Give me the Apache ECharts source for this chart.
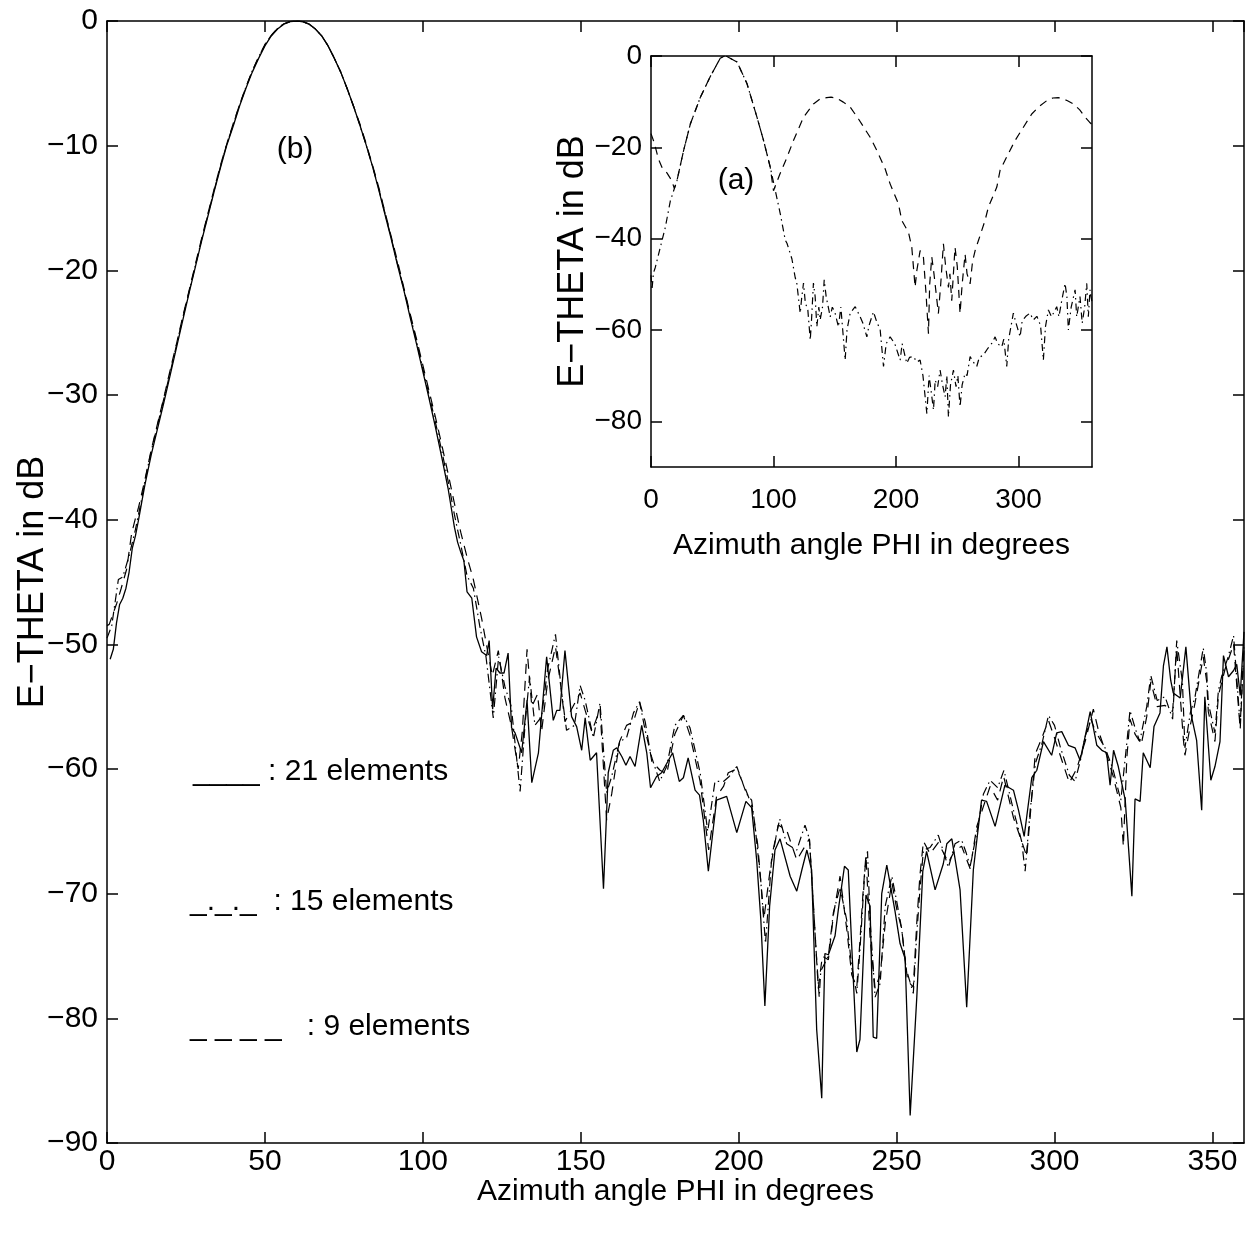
<!DOCTYPE html>
<html><head><meta charset="utf-8">
<script src="https://cdn.jsdelivr.net/npm/echarts@6/dist/echarts.min.js"></script>
<style>html,body{margin:0;padding:0;background:#fff}#c{width:1253px;height:1236px}</style>
</head><body><div id="c"></div>
<script>
// ---- data: [azimuth PHI (deg), E-THETA (dB)] ----
const solid21 = [[1,-51.2],[2,-50.4],[3,-48.3],[4,-46.8],[5,-46.3],[6,-45.5],[7,-44.2],[8,-42.3],[9,-41.3],[10,-40.0],[11,-38.6],[12,-37.2],[14,-34.8],[16,-32.7],[18,-30.6],[20,-28.4],[22,-26.2],[24,-24.0],[26,-21.8],[28,-19.7],[30,-17.6],[32,-15.6],[34,-13.6],[36,-11.7],[38,-9.9],[40,-8.4],[42,-6.8],[44,-5.4],[46,-4.1],[48,-3.0],[50,-2.0],[52,-1.2],[54,-0.65],[56,-0.25],[58,-0.05],[60,0],[62,-0.05],[64,-0.25],[66,-0.65],[68,-1.2],[70,-2.0],[72,-3.0],[74,-4.1],[76,-5.4],[78,-6.8],[80,-8.3],[82,-9.9],[84,-11.6],[86,-13.5],[88,-15.5],[90,-17.5],[92,-19.6],[94,-21.6],[96,-23.8],[98,-25.9],[100,-28.1],[102,-30.3],[104,-32.6],[106,-35.0],[108,-37.5],[110,-40.6],[111,-41.8],[112,-42.6],[113,-43.3],[114,-45.8],[115.5,-46.3],[117,-49.4],[118.6,-50.6],[120.2,-50.9],[121,-49.7],[122.1,-55.2],[123.2,-51.9],[124.4,-52.3],[125.7,-52.3],[127,-50.7],[128.1,-56.7],[129.2,-57.1],[131.3,-58.7],[133,-54.5],[134.5,-61.1],[136.6,-58.7],[139.2,-51],[141.3,-56.1],[142.4,-55.3],[143.4,-55.3],[145,-50.5],[147.1,-55.8],[148.7,-56.6],[150.3,-58.5],[151.4,-55.9],[153,-59.3],[154,-59],[155,-58.7],[157.2,-69.6],[158.7,-60.3],[160.3,-58.5],[161.4,-58.3],[163,-59],[164.3,-59.7],[165.6,-59],[167.2,-59.8],[169.3,-56.5],[170.9,-58.7],[172.1,-61.5],[174,-60.6],[175.6,-60.3],[179.1,-58.7],[181.2,-61],[182.5,-60.7],[184,-59.1],[186.2,-61.7],[187.6,-62.1],[188.8,-64.1],[190.4,-68.2],[193,-62.5],[196.2,-62.2],[199.4,-65.1],[202.3,-62.6],[204.1,-63.1],[205.7,-67.3],[207,-72],[208.3,-79],[209.8,-71],[211.5,-66.5],[213.1,-65.6],[216.3,-68.6],[218.4,-69.8],[220,-68.1],[221.6,-66.5],[223.1,-68.1],[224.7,-80.9],[226.3,-86.4],[227.3,-74.8],[228.4,-74.9],[230.5,-73.4],[231.6,-71.2],[233.5,-67.8],[234.7,-68.1],[235.8,-74.2],[237.4,-82.7],[238.4,-81.7],[240.3,-70.1],[241.6,-71],[242.6,-81.5],[243.7,-81.6],[245.3,-70],[246.9,-67.7],[249.5,-71.4],[251.1,-74],[252.7,-75.2],[254.3,-87.8],[256.4,-78.3],[258.3,-68.2],[259.5,-66.6],[262.2,-69.7],[264.8,-67.6],[265.9,-66],[267.5,-65.6],[270.1,-69.7],[272.2,-79.1],[274.3,-68.1],[276.9,-62.5],[278.5,-62.6],[281.2,-64.6],[284.3,-61.3],[287,-61.7],[288.6,-63.3],[290.4,-65.4],[292.8,-60.7],[294.4,-60.1],[296.5,-57.8],[299.1,-58.9],[300.7,-57.1],[302.3,-57],[304.4,-58.1],[306.5,-58.3],[308.1,-59.3],[309.7,-57.4],[311.3,-55.4],[313.4,-58.1],[315,-58.5],[316.5,-58.7],[317.6,-61.3],[318.7,-58.5],[320.2,-59.8],[322.4,-62.5],[324.5,-70.2],[325.5,-62.4],[327.1,-62.6],[328.1,-58.7],[330.3,-59.9],[331.5,-56.6],[333.4,-55.5],[334.5,-51.7],[335.6,-50.2],[336.8,-52.9],[337.6,-53.9],[339.8,-54.3],[341.6,-50.2],[343.4,-55.8],[345,-57.7],[346.6,-63.3],[347.6,-54.2],[349.5,-60.9],[350.8,-59.8],[352.4,-57.8],[353.5,-50.9],[355.1,-52.6],[356.7,-52.1],[357.7,-51.6],[358.8,-54.1],[360,-49]];

const dashDot15 = [[0,-49.5],[1.5,-48.5],[3.6,-44.8],[5,-44.6],[7,-42.9],[9,-40.8],[11,-38.3],[12,-36.9],[14,-34.5],[16,-32.4],[18,-30.3],[20,-28.2],[22,-26.0],[24,-23.8],[26,-21.7],[28,-19.6],[30,-17.5],[32,-15.5],[34,-13.5],[36,-11.6],[38,-9.8],[40,-8.3],[42,-6.7],[44,-5.3],[46,-4.0],[48,-2.9],[50,-1.9],[52,-1.15],[54,-0.6],[56,-0.22],[58,-0.04],[60,0],[62,-0.05],[64,-0.25],[66,-0.65],[68,-1.2],[70,-2.0],[72,-3.0],[74,-4.1],[76,-5.4],[78,-6.8],[80,-8.3],[82,-9.9],[84,-11.6],[86,-13.4],[88,-15.4],[90,-17.4],[92,-19.5],[94,-21.5],[96,-23.6],[98,-25.7],[100,-27.9],[102,-30.0],[104,-32.2],[106,-34.5],[108,-36.9],[110,-39.6],[112,-42],[114,-44.5],[116,-45.5],[118,-48.5],[120,-51],[122.3,-55.9],[124,-51],[126,-53.4],[128,-55],[130.8,-61.8],[132.5,-56],[133.8,-52.6],[135.5,-56.5],[137.6,-55.8],[139.5,-52],[142,-49.2],[144,-54],[145.5,-56.9],[148,-56.5],[149.8,-53.3],[151.4,-54.5],[154,-57.5],[156.1,-54.7],[158.2,-61.9],[159.8,-60.6],[162.3,-57.8],[164.5,-57.5],[166.7,-55.5],[168.6,-54.6],[170.4,-56.9],[172.5,-59.1],[175,-61],[177.2,-59.8],[179.8,-56.5],[182.5,-55.7],[184.6,-56.7],[187.8,-60.3],[190.2,-65],[192.5,-61],[195.2,-61],[197,-60.6],[199.4,-59.8],[202.5,-62],[204.1,-62.5],[205.2,-64.6],[207,-69],[208.5,-74],[210.5,-67],[213,-64],[215.2,-66],[218.4,-66.5],[221,-64.5],[222.4,-65.6],[224.5,-74.5],[225.5,-78.3],[226,-76.2],[228.4,-75],[230,-71.5],[232.1,-69.5],[234.2,-72.1],[235.8,-75.9],[237.4,-78],[238.4,-74.5],[240,-68],[240.8,-66.6],[241.6,-72.1],[243.2,-78.3],[244.8,-77.2],[246.4,-71],[248.5,-68.6],[250.1,-70.7],[251.6,-72.8],[253,-76],[255.3,-78],[256.4,-73.2],[257.4,-69.7],[258.5,-66.5],[260.6,-66.3],[263.2,-65.3],[266.4,-67.9],[268.5,-66],[270.6,-65.7],[272,-66.7],[273.3,-67.8],[275.4,-65.1],[277.5,-62],[279.6,-60.9],[282,-61.5],[284,-60.1],[287,-63.3],[289.6,-65.8],[290.7,-68.2],[292.3,-63.3],[294,-59.5],[296,-58],[298.1,-55.7],[300,-56.5],[301.8,-58.2],[304.7,-60.5],[306.5,-61],[308.5,-59],[309.7,-57.4],[311.5,-56],[313,-57],[316,-58.3],[318.5,-60],[321,-62.5],[322.9,-57.9],[323.9,-55.3],[325.5,-56.7],[327,-57.8],[329.2,-55],[330.5,-52.5],[332.5,-54.5],[335,-54.2],[337.4,-56],[338.7,-49.7],[340.5,-53],[341.3,-58.3],[343,-55.5],[344.5,-54.2],[347.1,-50.3],[348.2,-52.3],[348.7,-54.7],[350.8,-57.1],[351.9,-53.7],[353,-52.5],[355,-51],[356.7,-49.3],[358.8,-56.5],[360,-49.9]];

const dashed9 = [[0,-48.5],[0.7,-48.4],[3.1,-46.7],[4.5,-45.5],[6.2,-44.0],[7.8,-41.1],[8.9,-40.0],[10,-39.0],[12,-36.8],[14,-34.4],[16,-32.3],[18,-30.2],[20,-28.0],[22,-25.9],[24,-23.7],[26,-21.6],[28,-19.5],[30,-17.4],[32,-15.4],[34,-13.4],[36,-11.5],[38,-9.8],[40,-8.2],[42,-6.7],[44,-5.3],[46,-4.0],[48,-2.9],[50,-1.9],[52,-1.15],[54,-0.6],[56,-0.22],[58,-0.04],[60,0],[62,-0.05],[64,-0.25],[66,-0.65],[68,-1.2],[70,-2.0],[72,-3.0],[74,-4.1],[76,-5.4],[78,-6.8],[80,-8.2],[82,-9.8],[84,-11.5],[86,-13.3],[88,-15.3],[90,-17.3],[92,-19.3],[94,-21.4],[96,-23.5],[98,-25.5],[100,-27.6],[102,-29.7],[104,-31.8],[106,-34.0],[108,-36.3],[110,-38.7],[112,-41.0],[114,-43.0],[116,-44.8],[118.6,-47.9],[120.5,-50.5],[122,-52.5],[123.9,-50.5],[126,-54.3],[128,-56.5],[130.2,-60.0],[131.5,-57],[133,-50.4],[134.5,-55],[136.3,-54.0],[137.6,-57.0],[139.5,-53],[142,-50.2],[143.5,-53],[145,-56.2],[147.5,-55],[149.8,-53.9],[151.4,-55.3],[153.5,-57],[156.1,-55.2],[158.2,-64.1],[159.8,-62],[162.3,-57.8],[164.5,-56.5],[166.7,-56.2],[168.6,-54.6],[170.4,-56.2],[172.5,-59.4],[175.1,-60.1],[177.2,-60.4],[179.8,-57.2],[182.5,-55.7],[184.6,-57.3],[187.8,-61.0],[190.5,-66.5],[193,-62.2],[195.2,-61.4],[196.7,-60.3],[199.4,-60.0],[202,-61.5],[204.1,-62.9],[206,-66],[208,-72],[210,-68],[212.5,-64.5],[215.2,-64.9],[218.4,-67.3],[222.4,-65.6],[223.7,-71],[225.2,-77.6],[226.5,-75],[228.4,-75.3],[230,-71.7],[232.1,-68.6],[234.2,-72.8],[235.8,-76.5],[237.4,-77.5],[238.4,-73.8],[239.3,-70.2],[240.3,-66.9],[241.6,-73.5],[243.2,-77.6],[244.8,-76.5],[246.4,-72.4],[248.5,-69.1],[250.1,-71.3],[251.6,-72.8],[253.5,-77],[255.3,-77.5],[256.4,-72.3],[257.4,-68.5],[258.5,-65.8],[260.6,-66.8],[263.2,-65.9],[266.4,-67.5],[268.5,-66.5],[270.6,-66.2],[273.3,-68],[275.4,-64.6],[277.5,-63],[279.6,-61.4],[282,-62.5],[283.9,-60.6],[287,-63.9],[289.6,-65.8],[291.2,-67],[292.3,-63.8],[293.9,-58.8],[296,-57.5],[298.1,-56.1],[300,-57.5],[301.8,-58.9],[304.7,-61.1],[307,-60],[309.7,-57.8],[312.3,-55.2],[314,-57],[316,-58.5],[318.5,-60.5],[321,-63.1],[321.8,-66.2],[322.9,-59.1],[323.9,-56],[325.5,-57.2],[327.5,-58],[329.2,-55.8],[330.5,-53],[332.5,-55],[335,-54.9],[337.4,-55.4],[338.7,-50.3],[340.8,-57.6],[341.3,-58.9],[343,-56.5],[344.5,-54.7],[347.1,-51],[348.2,-53],[348.7,-55.4],[350.8,-57.8],[351.9,-54.1],[354,-52],[356.7,-50],[358.8,-56.8],[360,-50.3]];

// inset (a)
const insetDashed = [[0,-17],[2,-18.5],[4,-20.4],[6,-22.5],[9,-24.4],[13,-25.6],[17,-27.3],[19,-29],[21.2,-27.3],[26.6,-20.7],[32.1,-14.9],[40.2,-9.1],[48.4,-4.5],[56.5,-0.5],[60,0],[62,-0.1],[70.2,-1.3],[78.3,-6],[86.5,-13.4],[91.9,-18.5],[97.3,-24.3],[100,-29.5],[105,-26],[111,-22.2],[116.3,-18.5],[124.5,-13.4],[132.6,-10.5],[138,-9.4],[143.5,-9.1],[147,-9.0],[152,-9.3],[157,-10.1],[162.6,-11.2],[169.4,-13.8],[178.9,-17.8],[184.4,-20.7],[191.1,-24.7],[195.2,-28],[202,-32.4],[204.7,-36],[210.2,-38.6],[212.9,-41.9],[215.6,-50.6],[217,-47],[219.7,-42.6],[222.4,-44.1],[224.5,-52],[226.5,-60.8],[227.5,-50],[229.2,-44],[231,-47.7],[234.6,-56.4],[236.5,-50],[238.7,-41.1],[240.5,-46],[242.8,-50.7],[244,-47.7],[245.5,-53.6],[248.2,-41.9],[250,-46],[252.3,-56.4],[254,-50],[256.4,-43.4],[258,-47.7],[260.5,-49.9],[262.5,-45],[264.6,-42.6],[267.3,-40.4],[272.7,-36],[275.4,-33.1],[282.3,-28.7],[285,-25],[291.7,-21.4],[297.2,-18.5],[304,-15.6],[310.8,-12.7],[317,-11],[323,-9.8],[328,-9.2],[332.5,-9.1],[336.6,-9.4],[340,-9.8],[344.8,-10.5],[350,-11.8],[354.3,-13.4],[358,-14.5],[360,-15]];

const insetDashDot = [[0,-48],[0.8,-51.2],[2,-47.5],[3.5,-46.3],[7.6,-41.9],[11.7,-37.5],[15.8,-31.7],[21.2,-27.3],[26.6,-20.7],[32.1,-14.9],[40.2,-9.1],[48.4,-4.5],[56.5,-0.5],[60,0],[62,-0.1],[70.2,-1.3],[78.3,-6],[86.5,-13.4],[91.9,-18.5],[97.3,-24.3],[101.4,-29.4],[105.5,-34.5],[109.6,-40.3],[111,-41],[115,-44.4],[117.7,-48.5],[119,-49.7],[121.8,-56.3],[123,-53],[124.5,-49.7],[126,-54.1],[128,-55.5],[130,-62.2],[131,-58],[132.6,-49.7],[134,-52.7],[135.4,-59.3],[137,-55],[138.1,-57.8],[140,-55],[141.4,-49],[143,-52.7],[146.3,-57.1],[148,-55],[150,-56],[153,-59.3],[155,-55],[158.5,-66.6],[160,-60],[162.6,-56.3],[166.7,-54.9],[170.7,-57.1],[173,-58.5],[176.2,-61.5],[178,-59],[181.6,-56],[184,-58],[187.1,-60],[189.8,-68],[192,-63],[195.2,-61.5],[199,-63],[203.4,-66.6],[205,-63],[208.8,-67.3],[211,-66],[214.2,-65.8],[217,-67],[219.7,-66.6],[222,-70],[225.2,-78.3],[227,-70],[228.5,-73],[230.6,-77.5],[232,-71],[234,-72.4],[236,-68.8],[238,-72],[240.1,-74.6],[241.5,-70],[242.8,-79],[244.5,-72],[246.9,-68.8],[249,-72.4],[250.5,-70],[252.3,-76.8],[254,-72],[256.4,-69.5],[258,-70],[260.5,-65.8],[263,-67],[265.9,-68],[268,-66],[271.3,-65.5],[275,-64],[278,-63],[280.9,-61.5],[283,-63],[286.3,-63.7],[288,-62],[290.4,-68],[292,-62],[295.8,-56.3],[298,-58.5],[301.3,-61.5],[303,-58],[306,-57],[309.4,-56.3],[312.1,-57.8],[315,-57],[318,-59],[320.3,-66.6],[322,-59.3],[324.4,-55.6],[327,-57.1],[331.2,-54.9],[333,-57.1],[335,-54],[338,-49.8],[339.5,-52.7],[340.7,-60],[343,-55],[346.2,-51.2],[347.5,-57.1],[350.2,-52.7],[352,-58.5],[354,-55],[355.7,-49.8],[357,-57.1],[358.4,-51.2],[360,-54]];

const insetXTicks = [0, 100, 200, 300];
const insetYTicks = [0, -20, -40, -60, -80];
const legendLabels = ['____ : 21 elements', '_._._  : 15 elements', '_ _ _ _   : 9 elements'];
const panelLabels = ['(b)', '(a)'];
const xName = 'Azimuth angle PHI in degrees';
const yName = 'E\u2212THETA in dB';

// ---- chart ----
const FONT = 'Liberation Sans, Arial, Helvetica, sans-serif';
const minus = v => String(v).replace('-', '\u2212');
const axLine = {show: true, onZero: false, lineStyle: {color: '#000', width: 1.5}};
const tick = len => ({show: true, inside: true, length: len, lineStyle: {color: '#000', width: 1.5}});

function xAx(grid, pos, showLabel, interval, fs, name, gap, margin, custom) {
  const a = {type: 'value', gridIndex: grid, position: pos, min: 0, max: 360, interval: interval,
    axisLine: axLine, axisTick: tick(11), splitLine: {show: false},
    axisLabel: {show: showLabel, color: '#000', fontSize: fs, fontFamily: FONT, margin: margin, formatter: minus},
    name: name, nameLocation: 'middle', nameGap: gap, nameMoveOverlap: false,
    nameTextStyle: {color: '#000', fontSize: 30, fontFamily: FONT}};
  if (custom) { a.axisLabel.customValues = custom; a.axisTick.customValues = custom; }
  return a;
}
function yAx(grid, pos, showLabel, fs, name, gap, custom) {
  const a = {type: 'value', gridIndex: grid, position: pos, min: -90, max: 0,
    axisLine: axLine, axisTick: tick(11), splitLine: {show: false},
    axisLabel: {show: showLabel, color: '#000', fontSize: fs, fontFamily: FONT, margin: 9, formatter: minus},
    name: name, nameLocation: 'middle', nameGap: gap, nameRotate: 90, nameMoveOverlap: false,
    nameTextStyle: {color: '#000', fontSize: 36, fontFamily: FONT}};
  if (custom) { a.axisLabel.customValues = custom; a.axisTick.customValues = custom; }
  else a.interval = 10;
  return a;
}

const chart = echarts.init(document.getElementById('c'), null, {renderer: 'canvas'});
const ln = (d, xi, type, w) => ({type: 'line', xAxisIndex: xi, yAxisIndex: xi, data: d, showSymbol: false,
  symbol: 'none', silent: true, animation: false, lineStyle: {color: '#000', width: w, type: type}});

chart.setOption({
  backgroundColor: '#fff',
  animation: false,
  grid: [
    {left: 107, top: 21, width: 1137, height: 1122, show: false, containLabel: false, outerBoundsMode: 'none'},
    {left: 651, top: 56, width: 441, height: 411, show: true, backgroundColor: '#fff', borderWidth: 0, containLabel: false, outerBoundsMode: 'none'}
  ],
  xAxis: [
    xAx(0, 'bottom', true, 50, 30, xName, 34, 4, null),
    xAx(0, 'top', false, 50, 30, '', 0, 4, null),
    xAx(1, 'bottom', true, 100, 28, xName, 64, 19, insetXTicks),
    xAx(1, 'top', false, 100, 28, '', 0, 19, insetXTicks)
  ],
  yAxis: [
    yAx(0, 'left', true, 30, yName, 56, null),
    yAx(0, 'right', false, 30, '', 0, null),
    yAx(1, 'left', true, 28, yName, 60, insetYTicks),
    yAx(1, 'right', false, 28, '', 0, insetYTicks)
  ],
  series: [
    ln(dashed9, 0, [10, 7], 1.2),
    ln(dashDot15, 0, [9, 4, 1.5, 4], 1.2),
    ln(solid21, 0, 'solid', 1.3),
    ln(insetDashed, 2, [8, 6], 1.2),
    ln(insetDashDot, 2, [7, 4, 1.5, 4], 1.2)
  ],
  graphic: [
    {type: 'text', x: 295, y: 150, style: {text: panelLabels[0], font: '30px ' + FONT, fill: '#000', textAlign: 'center', textVerticalAlign: 'middle'}},
    {type: 'text', x: 736, y: 181, style: {text: panelLabels[1], font: '30px ' + FONT, fill: '#000', textAlign: 'center', textVerticalAlign: 'middle'}},
    {type: 'text', x: 193, y: 757, style: {text: legendLabels[0], font: '30px ' + FONT, fill: '#000', textAlign: 'left', textVerticalAlign: 'alphabetic'}},
    {type: 'text', x: 190, y: 887, style: {text: legendLabels[1], font: '30px ' + FONT, fill: '#000', textAlign: 'left', textVerticalAlign: 'alphabetic'}},
    {type: 'text', x: 190, y: 1012, style: {text: legendLabels[2], font: '30px ' + FONT, fill: '#000', textAlign: 'left', textVerticalAlign: 'alphabetic'}}
  ]
});
</script>
</body></html>
